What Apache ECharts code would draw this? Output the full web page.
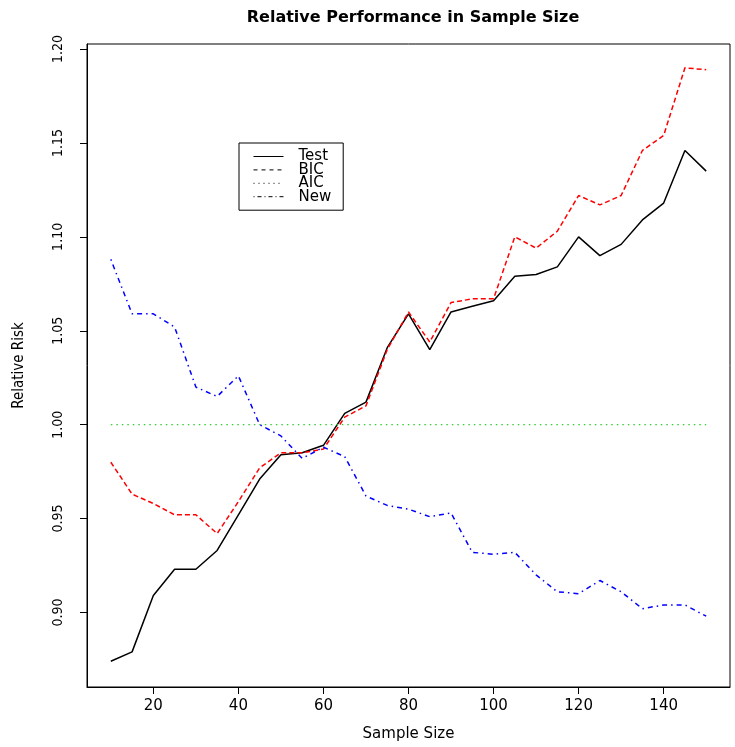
<!DOCTYPE html>
<html>
<head>
<meta charset="utf-8">
<script src="https://cdn.jsdelivr.net/npm/echarts@6/dist/echarts.min.js"></script>
<style>
html,body{margin:0;padding:0;background:#fff;}
#chart{width:735px;height:747px;}
</style>
</head>
<body>
<div id="chart"></div>
<script>
const sampleSize = [10,15,20,25,30,35,40,45,50,55,60,65,70,75,80,85,90,95,100,105,110,115,120,125,130,135,140,145,150];
const testRisk = [0.874,0.879,0.909,0.923,0.923,0.933,0.952,0.971,0.984,0.985,0.989,1.006,1.012,1.041,1.059,1.040,1.060,1.063,1.066,1.079,1.080,1.084,1.100,1.090,1.096,1.109,1.118,1.146,1.135];
const bicRisk  = [0.980,0.963,0.958,0.952,0.952,0.942,0.959,0.977,0.985,0.985,0.987,1.004,1.010,1.040,1.060,1.044,1.065,1.067,1.067,1.100,1.094,1.103,1.122,1.117,1.122,1.146,1.154,1.190,1.189];
const aicRisk  = [1.00,1.00,1.00,1.00,1.00,1.00,1.00,1.00,1.00,1.00,1.00,1.00,1.00,1.00,1.00,1.00,1.00,1.00,1.00,1.00,1.00,1.00,1.00,1.00,1.00,1.00,1.00,1.00,1.00];
const newRisk  = [1.088,1.059,1.059,1.052,1.020,1.015,1.026,1.000,0.994,0.982,0.988,0.983,0.962,0.957,0.955,0.951,0.953,0.932,0.931,0.932,0.920,0.911,0.910,0.917,0.911,0.902,0.904,0.904,0.898];
const xTicks = [20,40,60,80,100,120,140];
const yTicks = [0.90,0.95,1.00,1.05,1.10,1.15,1.20];
const seriesNames = ['Test','BIC','AIC','New'];

const pairs = arr => sampleSize.map((x,i)=>[x,arr[i]]);
const FONT = '"DejaVu Sans", "Liberation Sans", Arial, sans-serif';
const NARROW = '"Liberation Sans Narrow", "DejaVu Sans Condensed", "Arial Narrow", "DejaVu Sans", sans-serif';
const hiddenSymbol = {color:'rgba(0,0,0,0)', borderColor:'rgba(0,0,0,0)', borderWidth:0, opacity:0};

const chart = echarts.init(document.getElementById('chart'), null, {renderer:'canvas'});
chart.setOption({
  animation:false,
  backgroundColor:'#fff',
  title:{
    text:'Relative Performance in Sample Size',
    left:408, top:5, textAlign:'center',
    textStyle:{fontFamily:FONT, fontWeight:'bold', fontSize:16, color:'#000'}
  },
  grid:{left:87, right:5, top:44, bottom:59, show:true, borderColor:'#000', borderWidth:1, backgroundColor:'transparent'},
  legend:{
    orient:'vertical', left:239, top:143,
    padding:[6,12,6,14],
    itemWidth:30, itemHeight:11, itemGap:-1.6,
    borderColor:'#000', borderWidth:1,
    textStyle:{fontFamily:FONT, fontSize:15, color:'#000', padding:[5,0,0,10]},
    data:[
      {name:'Test', itemStyle:hiddenSymbol, lineStyle:{color:'#000', type:'solid', width:1}},
      {name:'BIC', itemStyle:hiddenSymbol, lineStyle:{color:'#000', type:[4,4], width:1}},
      {name:'AIC', itemStyle:hiddenSymbol, lineStyle:{color:'#000', type:[1,4], width:1}},
      {name:'New', itemStyle:hiddenSymbol, lineStyle:{color:'#000', type:[1,3,4,3], width:1}}
    ]
  },
  xAxis:{
    type:'value', min:4.4, max:155.6,
    name:'Sample Size', nameLocation:'middle', nameGap:40,
    nameTextStyle:{fontFamily:FONT, fontSize:15, color:'#000'},
    axisLine:{show:true, lineStyle:{color:'#000', width:1}},
    axisTick:{show:true, length:7, customValues:xTicks, lineStyle:{color:'#000'}},
    axisLabel:{customValues:xTicks, margin:12, fontFamily:FONT, fontSize:15, color:'#000'},
    splitLine:{show:false}
  },
  yAxis:{
    type:'value', min:0.8603, max:1.2027,
    name:'Relative Risk', nameLocation:'middle', nameGap:60, nameRotate:90,
    nameTextStyle:{fontFamily:NARROW, fontSize:15, color:'#000'},
    axisLine:{show:true, lineStyle:{color:'#000', width:1}},
    axisTick:{show:true, length:7, customValues:yTicks, lineStyle:{color:'#000'}},
    axisLabel:{customValues:yTicks, rotate:90, margin:22, fontFamily:NARROW, fontSize:14, color:'#000',
      formatter:v=>v.toFixed(2)},
    splitLine:{show:false}
  },
  series:[
    {name:'Test', type:'line', data:pairs(testRisk), symbol:'none', lineStyle:{color:'#000', width:1.5, type:'solid'}, itemStyle:{color:'#000'}},
    {name:'BIC', type:'line', data:pairs(bicRisk), symbol:'none', lineStyle:{color:'#ff0000', width:1.5, type:[5,3]}, itemStyle:{color:'#ff0000'}},
    {name:'AIC', type:'line', data:pairs(aicRisk), symbol:'none', lineStyle:{color:'#33cc33', width:1.2, type:[1.5,4]}, itemStyle:{color:'#33cc33'}},
    {name:'New', type:'line', data:pairs(newRisk), symbol:'none', lineStyle:{color:'#0000ff', width:1.5, type:[1.5,4,5,4]}, itemStyle:{color:'#0000ff'}}
  ]
});
</script>
</body>
</html>
